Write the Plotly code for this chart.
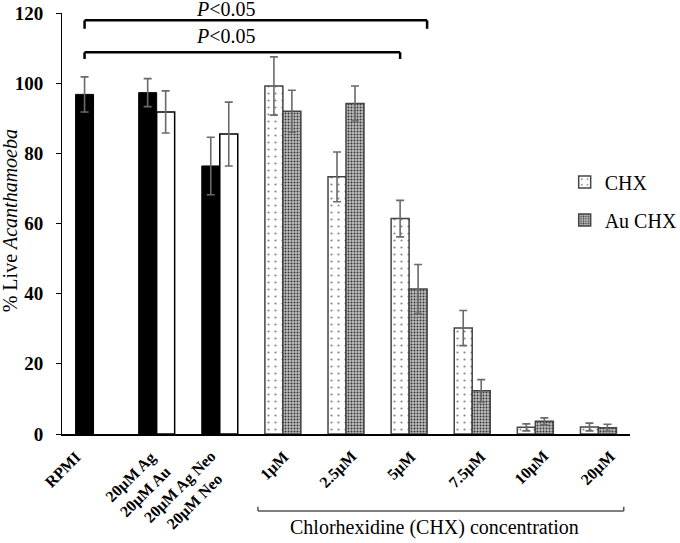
import plotly.graph_objects as go

# ---------------- data ----------------
categories = ["RPMI", "20µM Ag<br>20µM Au", "20µM Ag Neo<br>20µM Neo",
              "1µM", "2.5µM", "5µM", "7.5µM", "10µM", "20µM"]

black_x = categories[:3]
black_vals = [96.8, 97.3, 76.4]
black_err = [5.0, 4.0, 8.2]

white_x = categories[1:3]
white_vals = [91.8, 85.5]
white_err = [6.0, 9.1]

chx_x = categories[3:]
chx_vals = [99.2, 73.3, 61.4, 30.2, 1.9, 2.0]
chx_err = [8.3, 7.1, 5.2, 5.0, 1.0, 1.1]

auchx_vals = [92.0, 94.2, 41.3, 12.3, 3.6, 1.8]
auchx_err = [6.0, 5.0, 7.0, 3.2, 1.0, 1.0]

sig_label = "<i>P</i>&lt;0.05"
group_label = "Chlorhexidine (CHX) concentration"
y_title = "% Live <i>Acanthamoeba</i>"

# ---------------- style ----------------
SERIF = "Liberation Serif, Times New Roman, serif"
W = 0.285
# right end of each rotated category label, relative to the category index
label_dx = [-0.11, 0.33, 0.28, 0.19, 0.26, 0.20, 0.31, 0.31, 0.37]


def idx(names):
    return [categories.index(n) for n in names]


err_style = dict(type="data", visible=True, color="#6a6a6a", thickness=1.6, width=4)

fig = go.Figure()

fig.add_trace(go.Bar(
    x=idx(black_x), y=black_vals, offset=-W, width=W, showlegend=False,
    marker=dict(color="black", line=dict(color="black", width=1)),
    error_y=dict(array=black_err, **err_style)))

fig.add_trace(go.Bar(
    x=idx(white_x), y=white_vals, offset=0, width=W, showlegend=False,
    marker=dict(color="white", line=dict(color="black", width=1.5)),
    error_y=dict(array=white_err, **err_style)))

fig.add_trace(go.Bar(
    x=idx(chx_x), y=chx_vals, offset=-W, width=W, name="CHX", legendgroup="a",
    marker=dict(color="white", line=dict(color="#444", width=1.5),
                pattern=dict(shape=".", size=7, solidity=0.08, fgcolor="#888",
                             bgcolor="white", fillmode="replace")),
    error_y=dict(array=chx_err, **err_style)))

fig.add_trace(go.Bar(
    x=idx(chx_x), y=auchx_vals, offset=0, width=W, name="Au CHX", legendgroup="b",
    marker=dict(color="white", line=dict(color="#444", width=1.5),
                pattern=dict(shape=".", size=3, solidity=0.32, fgcolor="#333",
                             bgcolor="#bdbdbd", fillmode="replace")),
    error_y=dict(array=auchx_err, **err_style)))

# rotated category labels
for i, (lab, dx) in enumerate(zip(categories, label_dx)):
    fig.add_annotation(x=i + dx, y=0, xref="x", yref="y", text="<b>" + lab + "</b>",
                       textangle=-45, showarrow=False, xanchor="right", yanchor="top",
                       yshift=-11, align="center",
                       font=dict(family=SERIF, size=16, color="black"))


# significance brackets
def bracket(x0, x1, y, drop, lw):
    for (xa, ya, xb, yb) in [(x0, y, x1, y), (x0, y, x0, y - drop), (x1, y, x1, y - drop)]:
        fig.add_shape(type="line", xref="x", yref="y", x0=xa, y0=ya, x1=xb, y1=yb,
                      line=dict(color="black", width=lw))


bracket(0 - W / 2, 5 + W, 117.9, 2.4, 2.5)
bracket(0 - W / 2, 5 - W / 2, 108.8, 1.9, 2.5)

fig.add_annotation(x=2.1, y=117.9, xref="x", yref="y", text=sig_label, showarrow=False,
                   yanchor="bottom", yshift=-2, font=dict(family=SERIF, size=20, color="black"))
fig.add_annotation(x=2.1, y=108.8, xref="x", yref="y", text=sig_label, showarrow=False,
                   yanchor="bottom", yshift=3, font=dict(family=SERIF, size=20, color="black"))

# chlorhexidine group bracket (below axis)
gx0, gx1, gy0, gy1 = 0.345, 0.989, -0.173, -0.183
for (xa, ya, xb, yb) in [(gx0, gy1, gx1, gy1), (gx0, gy0, gx0, gy1), (gx1, gy0, gx1, gy1)]:
    fig.add_shape(type="line", xref="paper", yref="paper", x0=xa, y0=ya, x1=xb, y1=yb,
                  line=dict(color="#555", width=1.5))
fig.add_annotation(x=0.655, y=-0.222, xref="paper", yref="paper", text=group_label,
                   showarrow=False, xanchor="center", yanchor="middle",
                   font=dict(family=SERIF, size=20, color="black"))

# y title
fig.add_annotation(x=-0.091, y=0.506, xref="paper", yref="paper", text=y_title,
                   textangle=-90, showarrow=False, xanchor="center", yanchor="middle",
                   font=dict(family=SERIF, size=20, color="black"))

fig.update_layout(
    template="none",
    width=680, height=543,
    margin=dict(l=62, r=50, t=13, b=109, autoexpand=False),
    paper_bgcolor="white", plot_bgcolor="white",
    barmode="overlay",
    font=dict(family=SERIF, color="black"),
    legend=dict(x=0.885, y=0.645, xanchor="left", yanchor="top",
                font=dict(family=SERIF, size=20, color="black"),
                tracegroupgap=9, bgcolor="rgba(0,0,0,0)", itemwidth=30,
                borderwidth=0),
    xaxis=dict(type="linear", range=[-0.5, 8.5], automargin=False,
               showticklabels=False, ticks="",
               showline=True, linecolor="black", linewidth=2, showgrid=False,
               zeroline=False),
    yaxis=dict(range=[0, 120], dtick=20, ticks="outside", ticklen=5, automargin=False,
               tickcolor="black", showline=True, linecolor="black", linewidth=1,
               showgrid=False, zeroline=False, ticklabelstandoff=9,
               tickfont=dict(family=SERIF, size=19, color="black", weight="bold")),
)

fig.write_html("out.html", config={"displayModeBar": False},
               post_script="document.body.style.margin='0px';")
